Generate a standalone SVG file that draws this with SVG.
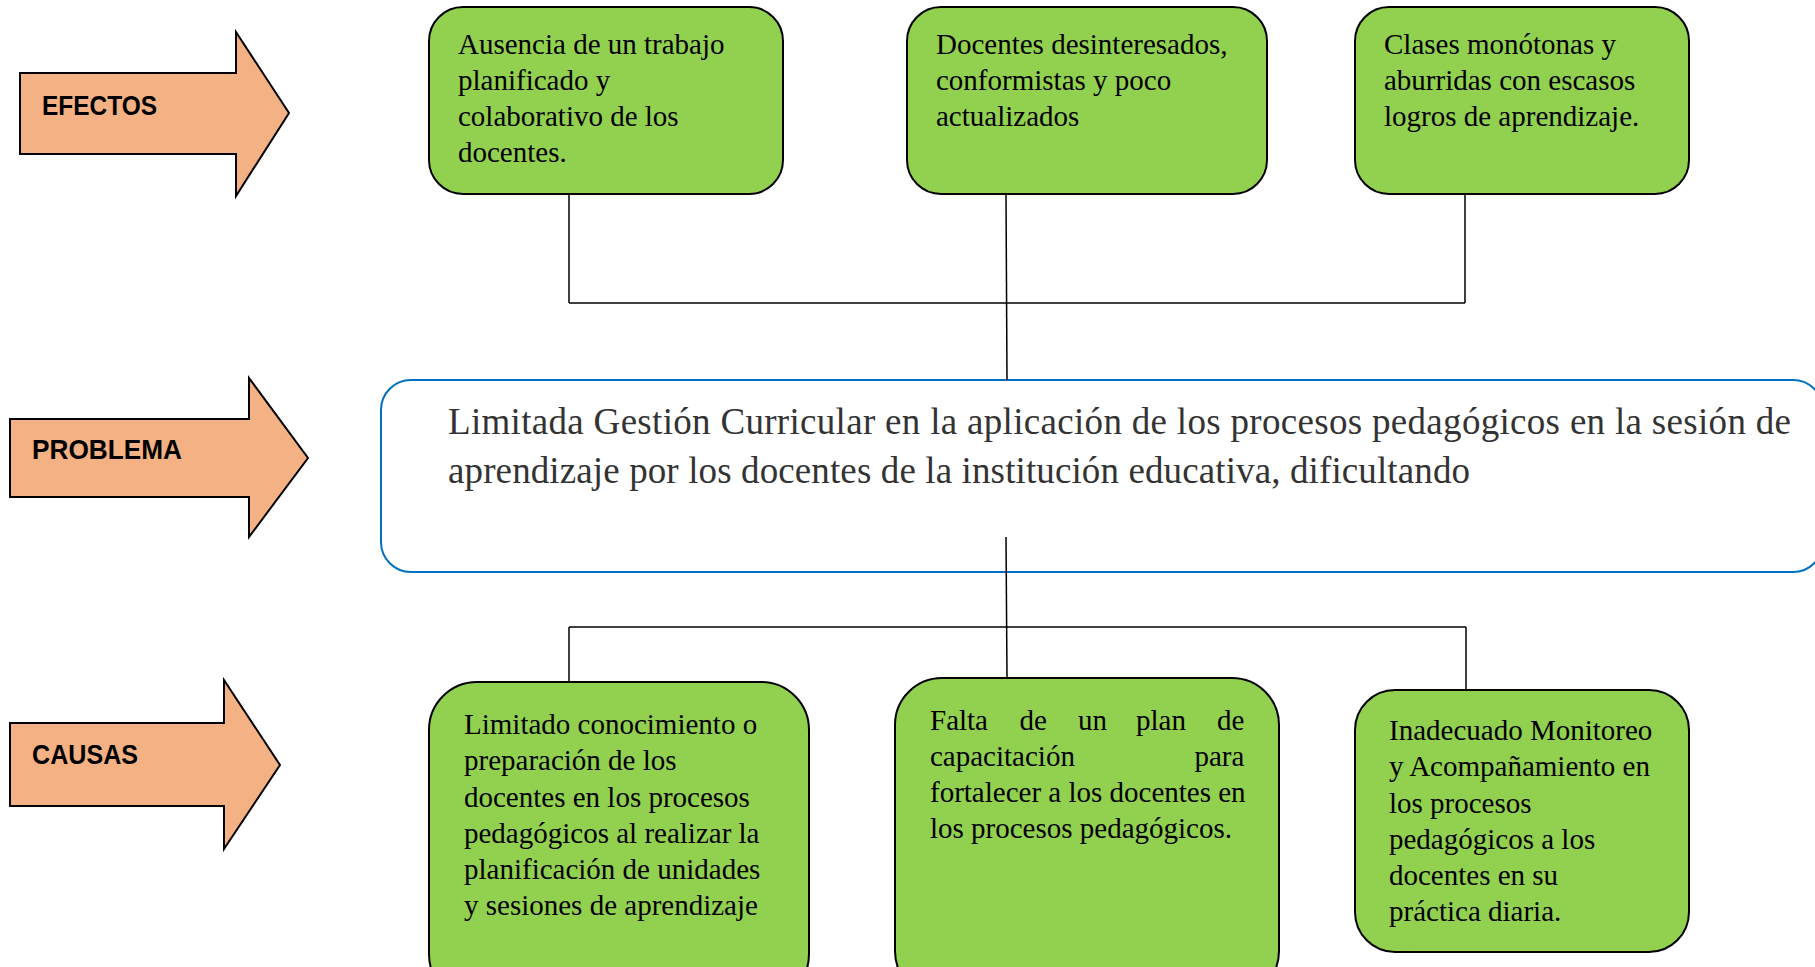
<svg xmlns="http://www.w3.org/2000/svg" width="1815" height="967" viewBox="0 0 1815 967">
<style>
.arrow{fill:#F4B183;stroke:#000;stroke-width:2}
.lbl{font-family:"Liberation Sans",Arial,sans-serif;font-weight:bold;font-size:28px;fill:#000}
.box{fill:#92D050;stroke:#000;stroke-width:2}
.bt{font-family:"Liberation Serif","Times New Roman",serif;font-size:29px;fill:#000}
.prob{fill:#fff;stroke:#0070C0;stroke-width:2}
.pt{font-family:"Liberation Serif","Times New Roman",serif;font-size:37px;fill:#333}
.con line{stroke:#000;stroke-width:1.5;fill:none}
</style>
<rect width="1815" height="967" fill="#fff"/>
<g id="efectos">
<polygon class="arrow" points="20,73 236,73 236,32 289,113 236,196 236,154 20,154"/>
<text class="lbl" x="42" y="115" textLength="115" lengthAdjust="spacingAndGlyphs">EFECTOS</text>
</g>
<g id="problema">
<polygon class="arrow" points="10,419 249,419 249,378 308,458 249,537 249,497 10,497"/>
<text class="lbl" x="32" y="459" textLength="150" lengthAdjust="spacingAndGlyphs">PROBLEMA</text>
</g>
<g id="causas">
<polygon class="arrow" points="10,723 224,723 224,680 280,765 224,849 224,806 10,806"/>
<text class="lbl" x="32" y="764" textLength="106" lengthAdjust="spacingAndGlyphs">CAUSAS</text>
</g>
<g id="efecto1">
<rect class="box" x="429" y="7" width="354" height="187" rx="34"/>
<text class="bt"><tspan x="458" y="54">Ausencia de un trabajo</tspan><tspan x="458" y="90">planificado y</tspan><tspan x="458" y="126">colaborativo de los</tspan><tspan x="458" y="162">docentes.</tspan></text>
</g>
<g id="efecto2">
<rect class="box" x="907" y="7" width="360" height="187" rx="34"/>
<text class="bt"><tspan x="936" y="54">Docentes desinteresados,</tspan><tspan x="936" y="90">conformistas y poco</tspan><tspan x="936" y="126">actualizados</tspan></text>
</g>
<g id="efecto3">
<rect class="box" x="1355" y="7" width="334" height="187" rx="34"/>
<text class="bt"><tspan x="1384" y="54">Clases monótonas y</tspan><tspan x="1384" y="90">aburridas con escasos</tspan><tspan x="1384" y="126">logros de aprendizaje.</tspan></text>
</g>
<g id="problema-box">
<rect class="prob" x="381" y="380" width="1442" height="192" rx="30"/>
<text class="pt"><tspan x="448" y="434" textLength="1343" lengthAdjust="spacing">Limitada Gestión Curricular en la aplicación de los procesos pedagógicos en la sesión de</tspan><tspan x="448" y="483" textLength="1022" lengthAdjust="spacing">aprendizaje por los docentes de la institución educativa, dificultando</tspan></text>
</g>
<g id="causa1">
<rect class="box" x="429" y="682" width="380" height="320" rx="48"/>
<text class="bt"><tspan x="464" y="734">Limitado conocimiento o</tspan><tspan x="464" y="770">preparación de los</tspan><tspan x="464" y="806.5">docentes en los procesos</tspan><tspan x="464" y="842.5">pedagógicos al realizar la</tspan><tspan x="464" y="878.5">planificación de unidades</tspan><tspan x="464" y="915">y sesiones de aprendizaje</tspan></text>
</g>
<g id="causa2">
<rect class="box" x="895" y="678" width="384" height="320" rx="47"/>
<text class="bt"><tspan x="930" y="730">Falta</tspan><tspan x="1019.5" y="730">de</tspan><tspan x="1078" y="730">un</tspan><tspan x="1136" y="730">plan</tspan><tspan x="1217" y="730">de</tspan><tspan x="930" y="766">capacitación</tspan><tspan x="1194.5" y="766">para</tspan><tspan x="930" y="802">fortalecer a los docentes en</tspan><tspan x="930" y="838">los procesos pedagógicos.</tspan></text>
</g>
<g id="causa3">
<rect class="box" x="1355" y="690" width="334" height="262" rx="40"/>
<text class="bt"><tspan x="1389" y="740">Inadecuado Monitoreo</tspan><tspan x="1389" y="776">y Acompañamiento en</tspan><tspan x="1389" y="812.5">los procesos</tspan><tspan x="1389" y="848.5">pedagógicos a los</tspan><tspan x="1389" y="885">docentes en su</tspan><tspan x="1389" y="921">práctica diaria.</tspan></text>
</g>
<g class="con" id="connectors">
<line x1="569" y1="194" x2="569" y2="303"/>
<line x1="1006" y1="194" x2="1007" y2="380"/>
<line x1="1465" y1="194" x2="1465" y2="303"/>
<line x1="569" y1="303" x2="1465" y2="303"/>
<line x1="1006" y1="537" x2="1007" y2="678"/>
<line x1="569" y1="627" x2="1466" y2="627"/>
<line x1="569" y1="627" x2="569" y2="682"/>
<line x1="1466" y1="627" x2="1466" y2="690"/>
</g>
</svg>
